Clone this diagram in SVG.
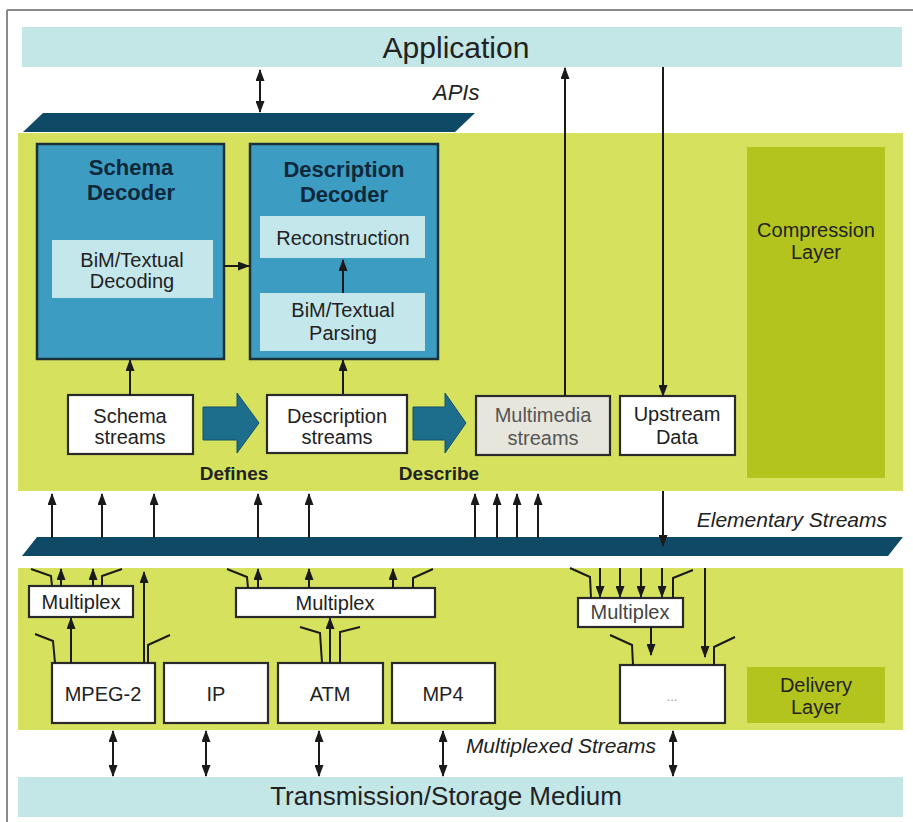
<svg xmlns="http://www.w3.org/2000/svg" width="913" height="822" viewBox="0 0 913 822">
<defs>
<marker id="ah" viewBox="0 0 12 9" refX="11" refY="4.5" markerWidth="12" markerHeight="9" markerUnits="userSpaceOnUse" orient="auto-start-reverse">
<path d="M0,0 L12,4.5 L0,9 z" fill="#1a1a1a"/>
</marker>
<style>
.t{font-family:"Liberation Sans",Arial,sans-serif;fill:#222;text-anchor:middle}
.tb{font-family:"Liberation Sans",Arial,sans-serif;font-weight:bold;fill:#10283a;text-anchor:middle}
.ti{font-family:"Liberation Sans",Arial,sans-serif;font-style:italic;fill:#222}
.band{fill:#c3e6e6}
.bar{fill:#0e4a66}
.yel{fill:#d6e25e}
.olive{fill:#b4c41e}
.dec{fill:#3c9cc2;stroke:#1c3038;stroke-width:2.5}
.inner{fill:#c4e7ec}
.wbox{fill:#ffffff;stroke:#2a2a2a;stroke-width:2.2}
.ln{stroke:#1a1a1a;stroke-width:2;fill:none}
.arr{stroke:#1a1a1a;stroke-width:2;fill:none;marker-end:url(#ah)}
.darr{stroke:#1a1a1a;stroke-width:2;fill:none;marker-start:url(#ah);marker-end:url(#ah)}
.blk{fill:#1d6e8c;stroke:#14506a;stroke-width:1}
</style>
</defs>
<rect x="0" y="0" width="913" height="822" fill="#ffffff"/>
<path d="M7,10 H913 M7,10 V822" stroke="#8a8a8a" stroke-width="2" fill="none"/>

<g id="application">
<rect class="band" x="22" y="27" width="880" height="40"/>
<text class="t" x="456" y="58" font-size="30">Application</text>
</g>
<g id="apis-bar">
<polygon class="bar" points="43,113 475,113 455,132 23,132"/>
<text class="ti" x="433" y="100" font-size="22">APIs</text>
</g>
<g id="compression-area">
<rect class="yel" x="18" y="133" width="885" height="358"/>
</g>
<g id="compression-layer">
<rect class="olive" x="747" y="147" width="138" height="331"/>
<text class="t" x="816" y="237" font-size="20">Compression</text>
<text class="t" x="816" y="259" font-size="20">Layer</text>
</g>
<g id="schema-decoder">
<rect class="dec" x="37" y="144" width="187" height="215"/>
<text class="tb" x="131" y="175" font-size="22">Schema</text>
<text class="tb" x="131" y="200" font-size="22">Decoder</text>
<rect class="inner" x="52" y="240" width="161" height="58"/>
<text class="t" x="132" y="267" font-size="20">BiM/Textual</text>
<text class="t" x="132" y="288" font-size="20">Decoding</text>
</g>
<g id="description-decoder">
<rect class="dec" x="250" y="144" width="188" height="215"/>
<text class="tb" x="344" y="177" font-size="22">Description</text>
<text class="tb" x="344" y="202" font-size="22">Decoder</text>
<rect class="inner" x="260" y="216" width="165" height="42"/>
<text class="t" x="343" y="245" font-size="20">Reconstruction</text>
<rect class="inner" x="260" y="293" width="165" height="58"/>
<text class="t" x="343" y="317" font-size="20">BiM/Textual</text>
<text class="t" x="343" y="340" font-size="20">Parsing</text>
</g>
<g id="schema-streams">
<rect class="wbox" x="68" y="395" width="125" height="59"/>
<text class="t" x="130" y="423" font-size="20">Schema</text>
<text class="t" x="130" y="444" font-size="20">streams</text>
</g>
<g id="description-streams">
<rect class="wbox" x="267" y="395" width="140" height="58"/>
<text class="t" x="337" y="423" font-size="20">Description</text>
<text class="t" x="337" y="444" font-size="20">streams</text>
</g>
<g id="multimedia-streams">
<rect class="wbox" x="476" y="396" width="134" height="59" fill="#e6e6dc" style="fill:#e6e6dc"/>
<text class="t" x="543" y="422" font-size="20" style="fill:#555">Multimedia</text>
<text class="t" x="543" y="445" font-size="20" style="fill:#555">streams</text>
</g>
<g id="upstream-data">
<rect class="wbox" x="620" y="396" width="115" height="59"/>
<text class="t" x="677" y="421" font-size="20">Upstream</text>
<text class="t" x="677" y="444" font-size="20">Data</text>
</g>
<g id="defines">
<polygon class="blk" points="203,407 237,407 237,393 259,423 237,453 237,440 203,440"/>
<text class="tb" x="234" y="480" font-size="19" style="fill:#222">Defines</text>
</g>
<g id="describe">
<polygon class="blk" points="413,407 445,407 445,393 466,423 445,453 445,440 413,440"/>
<text class="tb" x="439" y="480" font-size="19" style="fill:#222">Describe</text>
</g>
<g id="elementary-bar">
<polygon class="bar" points="37,537 903,537 888,556 22,556"/>
<text class="ti" x="887" y="527" font-size="21" text-anchor="end">Elementary Streams</text>
</g>
<g id="delivery-area">
<rect class="yel" x="18" y="568" width="885" height="162"/>
</g>
<g id="delivery-layer">
<rect class="olive" x="747" y="667" width="138" height="56"/>
<text class="t" x="816" y="692" font-size="20">Delivery</text>
<text class="t" x="816" y="714" font-size="20">Layer</text>
</g>
<g id="multiplex-1">
<rect class="wbox" x="29" y="586" width="104" height="31"/>
<text class="t" x="81" y="609" font-size="20">Multiplex</text>
</g>
<g id="multiplex-2">
<rect class="wbox" x="236" y="588" width="199" height="29"/>
<text class="t" x="335" y="610" font-size="20">Multiplex</text>
</g>
<g id="multiplex-3">
<rect class="wbox" x="578" y="598" width="105" height="29"/>
<text class="t" x="630" y="619" font-size="20" style="fill:#444">Multiplex</text>
</g>
<g id="mpeg2">
<rect class="wbox" x="52" y="663" width="103" height="60"/>
<text class="t" x="103" y="701" font-size="20">MPEG-2</text>
</g>
<g id="ip">
<rect class="wbox" x="164" y="663" width="104" height="60"/>
<text class="t" x="216" y="701" font-size="20">IP</text>
</g>
<g id="atm">
<rect class="wbox" x="278" y="663" width="105" height="60"/>
<text class="t" x="330" y="701" font-size="20">ATM</text>
</g>
<g id="mp4">
<rect class="wbox" x="392" y="663" width="103" height="60"/>
<text class="t" x="443" y="701" font-size="20">MP4</text>
</g>
<g id="other">
<rect class="wbox" x="620" y="665" width="105" height="58"/>
<text class="t" x="672" y="701" font-size="13" style="fill:#999">...</text>
</g>
<g id="transmission">
<rect class="band" x="18" y="777" width="885" height="40"/>
<text class="t" x="446" y="805" font-size="26">Transmission/Storage Medium</text>
<text class="ti" x="561" y="753" font-size="21" text-anchor="middle">Multiplexed Streams</text>
</g>

<g id="connectors">
<line class="darr" x1="260" y1="70" x2="260" y2="112"/>
<line class="arr" x1="565" y1="396" x2="565" y2="68"/>
<line class="arr" x1="663" y1="67" x2="663" y2="396"/>
<line class="arr" x1="224" y1="266" x2="249" y2="266"/>
<line class="arr" x1="343" y1="293" x2="343" y2="260"/>
<line class="arr" x1="130" y1="395" x2="130" y2="360"/>
<line class="arr" x1="343" y1="394" x2="343" y2="360"/>
<line class="arr" x1="52" y1="538" x2="52" y2="494"/>
<line class="arr" x1="102" y1="538" x2="102" y2="494"/>
<line class="arr" x1="154" y1="538" x2="154" y2="494"/>
<line class="arr" x1="258" y1="538" x2="258" y2="494"/>
<line class="arr" x1="309" y1="538" x2="309" y2="494"/>
<line class="arr" x1="475" y1="538" x2="475" y2="494"/>
<line class="arr" x1="497" y1="538" x2="497" y2="494"/>
<line class="arr" x1="517" y1="538" x2="517" y2="494"/>
<line class="arr" x1="538" y1="538" x2="538" y2="494"/>
<line class="arr" x1="663" y1="491" x2="663" y2="546"/>
<line class="arr" x1="61" y1="586" x2="61" y2="569"/>
<line class="arr" x1="93" y1="586" x2="93" y2="569"/>
<polyline class="ln" points="31,569 51,576 52,586"/>
<polyline class="ln" points="102,586 102,576 122,569"/>
<line class="arr" x1="71" y1="663" x2="71" y2="618"/>
<polyline class="ln" points="35,634 53,641 55,663"/>
<line class="arr" x1="144" y1="663" x2="144" y2="572"/>
<polyline class="ln" points="148,663 148,645 170,635"/>
<line class="arr" x1="258" y1="588" x2="258" y2="569"/>
<line class="arr" x1="309" y1="588" x2="309" y2="569"/>
<line class="arr" x1="393" y1="588" x2="393" y2="569"/>
<polyline class="ln" points="227,569 247,577 248,588"/>
<polyline class="ln" points="413,588 413,578 433,569"/>
<line class="arr" x1="330" y1="663" x2="330" y2="618"/>
<polyline class="ln" points="300,627 320,633 322,663"/>
<polyline class="ln" points="340,663 340,632 360,627"/>
<line class="arr" x1="600" y1="568" x2="600" y2="597"/>
<line class="arr" x1="620" y1="568" x2="620" y2="597"/>
<line class="arr" x1="641" y1="568" x2="641" y2="597"/>
<line class="arr" x1="662" y1="568" x2="662" y2="597"/>
<polyline class="ln" points="570,568 590,577 591,598"/>
<polyline class="ln" points="673,598 673,578 693,570"/>
<line class="arr" x1="705" y1="568" x2="705" y2="657"/>
<line class="arr" x1="651" y1="627" x2="651" y2="655"/>
<polyline class="ln" points="610,635 632,645 633,665"/>
<polyline class="ln" points="714,665 714,647 735,637"/>
<line class="darr" x1="113" y1="731" x2="113" y2="776"/>
<line class="darr" x1="206" y1="731" x2="206" y2="776"/>
<line class="darr" x1="319" y1="731" x2="319" y2="776"/>
<line class="darr" x1="443" y1="731" x2="443" y2="776"/>
<line class="darr" x1="673" y1="731" x2="673" y2="776"/>
</g>
</svg>
